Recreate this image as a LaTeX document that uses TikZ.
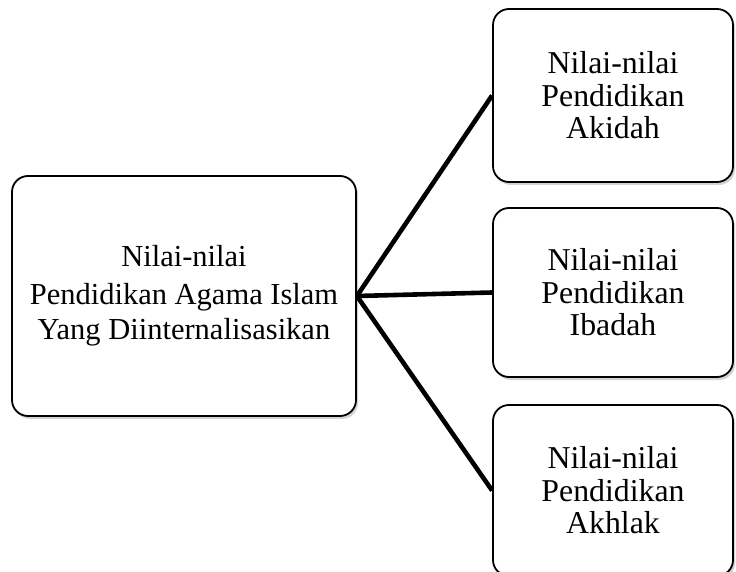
\documentclass[tikz,border=0pt]{standalone}
\usepackage{fontspec}
\setmainfont{Liberation Serif}
\usetikzlibrary{shadows}
\begin{document}
\begin{tikzpicture}[x=1pt,y=1pt,
  box/.style={draw=black, line width=1.8pt, rounded corners=16pt, fill=white, align=center,
    drop shadow={opacity=0.35, shadow xshift=2pt, shadow yshift=-3pt}, inner sep=0pt},
  rbox/.style={box, minimum width=240pt, font=\fontsize{31.8}{32.5}\selectfont},
  link/.style={line width=4.6pt}]
\useasboundingbox (0,0) rectangle (736,571);
\node[box, minimum width=344pt, minimum height=240pt, font=\fontsize{30.5}{35.5}\selectfont] (main) at (184,275)
  {Nilai-nilai\\[2pt]Pendidikan Agama Islam\\Yang Diinternalisasikan};
\node[rbox, minimum height=173pt] (akidah) at (613,475.5) {Nilai-nilai\\Pendidikan\\Akidah};
\node[rbox, minimum height=169pt] (ibadah) at (613,278.5) {Nilai-nilai\\Pendidikan\\Ibadah};
\node[rbox, minimum height=171pt] (akhlak) at (613,80.5) {Nilai-nilai\\Pendidikan\\Akhlak};
\draw[link] (main.east) -- (akidah.west);
\draw[link] (main.east) -- (ibadah.west);
\draw[link] (main.east) -- (akhlak.west);
\end{tikzpicture}
\end{document}
